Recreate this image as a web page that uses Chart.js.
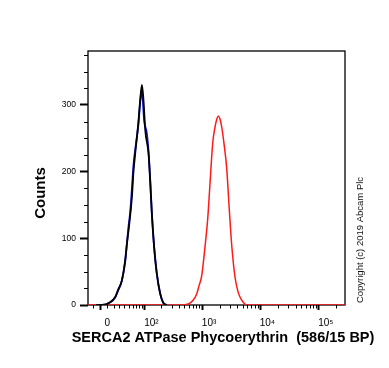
<!DOCTYPE html>
<html><head><meta charset="utf-8">
<script src="https://cdn.jsdelivr.net/npm/chart.js@4"></script>
<style>html,body{margin:0;padding:0;background:#fff;}#wrap{width:389px;height:368px;position:relative;}</style>
</head><body><div id="wrap"><canvas id="c" width="389" height="368"></canvas></div>
<script>
// Fluorescence intensity (PE) values and counts
const blackX = [-5.7, 2.8, 14.6, 22.6, 27.8, 34.7, 41.6, 45.5, 49.3, 53.5, 57.9, 62.2, 67.0, 77.4, 83.4, 90.1, 96.2, 103.8, 118.4, 126.8, 135.7, 149.1, 166.1, 190, 216.6, 247.8];
const blackY = [0, 0, 4, 12, 23, 37, 67, 92, 112, 135, 162, 200, 226, 274, 306, 330, 307, 262, 228, 187, 138, 87, 47, 17, 3, 0];
const blueX = [-5.7, 2.8, 14.6, 22.6, 27.8, 34.7, 41.6, 45.5, 49.3, 53.5, 57.9, 62.2, 67.0, 77.4, 83.4, 87.8, 92.8, 98.8, 110.6, 118.4, 126.8, 135.7, 149.1, 166.1, 190, 216.6, 247.8];
const blueY = [0, 0, 4, 11, 22, 36, 65, 92, 118, 140, 175, 210, 232, 271, 303, 320, 310, 277, 258, 232, 190, 140, 88, 48, 18, 3, 0];
const redX = [-18, 420, 583, 702, 812, 889, 988, 1126, 1252, 1371, 1524, 1668, 1791, 1900, 2031, 2172, 2378, 2645, 2895, 3219, 3666, 4126, 4464, 5023, 5810, 7159, 280000];
const redY = [0, 0, 1.5, 7, 17, 29, 44, 88, 130, 183, 243, 267, 279, 283.5, 279, 267, 242, 205, 150, 90, 42, 20, 12, 4.5, 0, 0, 0];

const xMajorVals = [0, 100, 1000, 10000, 100000];
const xTickLabels = ['0', '10\u00B2', '10\u00B3', '10\u2074', '10\u2075'];
const xMinorVals = [-10, 10, 20, 30, 40, 50, 60, 70, 80, 90, 200, 300, 400, 500, 600, 700, 800, 900,
  2000, 3000, 4000, 5000, 6000, 7000, 8000, 9000, 20000, 30000, 40000, 50000, 60000, 70000, 80000, 90000, 200000];
const yMajorVals = [0, 100, 200, 300];
const yMinorVals = [25, 50, 75, 125, 150, 175, 225, 250, 275, 325, 350, 375];
const xRange = [-18, 280000];
const yRange = [0, 381];

const xTitle = 'SERCA2 ATPase Phycoerythrin  (586/15 BP)';
const yTitle = 'Counts';
const copyright = 'Copyright (c) 2019 Abcam Plc';

const W = 36.1;
const T = v => Math.asinh(v / W) / Math.LN10; // biexponential-like display transform
const FONT = "'Liberation Sans', Arial, sans-serif";

const pts = (xs, ys) => xs.map((x, i) => ({x: T(x), y: ys[i]}));

const extras = {
  id: 'extras',
  beforeDatasetsDraw(chart) {
    const {ctx, chartArea: a} = chart;
    ctx.save();
    ctx.strokeStyle = '#000';
    ctx.lineWidth = 1.3;
    ctx.strokeRect(a.left, a.top, a.right - a.left, a.bottom - a.top);
    ctx.restore();
  },
  afterDraw(chart) {
    const {ctx, chartArea: a, scales} = chart;
    ctx.save();
    ctx.strokeStyle = '#000';
    ctx.lineWidth = 1;
    ctx.beginPath();
    xMinorVals.forEach(v => {
      const px = Math.round(scales.x.getPixelForValue(T(v))) + 0.5;
      ctx.moveTo(px, a.bottom); ctx.lineTo(px, a.bottom + 3.5);
    });
    yMinorVals.forEach(v => {
      const py = Math.round(scales.y.getPixelForValue(v)) + 0.5;
      ctx.moveTo(a.left, py); ctx.lineTo(a.left - 4, py);
    });
    ctx.stroke();
    ctx.fillStyle = '#000';
    ctx.textAlign = 'center';
    ctx.textBaseline = 'middle';
    ctx.font = 'bold 14.5px ' + FONT;
    ctx.fillText(xTitle, 223, 338);
    ctx.save();
    ctx.translate(41, 193);
    ctx.rotate(-Math.PI / 2);
    ctx.font = 'bold 15px ' + FONT;
    ctx.fillText(yTitle, 0, 0);
    ctx.restore();
    ctx.translate(360, 240);
    ctx.rotate(-Math.PI / 2);
    ctx.font = '9.5px ' + FONT;
    ctx.fillStyle = '#111';
    ctx.fillText(copyright, 0, 0);
    ctx.restore();
  }
};

new Chart(document.getElementById('c'), {
  type: 'line',
  data: {
    datasets: [
      {label: 'Unstained', data: pts(blackX, blackY), borderColor: '#000000', borderWidth: 1.8, pointRadius: 0, cubicInterpolationMode: 'monotone', fill: false},
      {label: 'SERCA2 ATPase', data: pts(redX, redY), borderColor: '#ff1a1a', borderWidth: 1.5, pointRadius: 0, cubicInterpolationMode: 'monotone', fill: false},
      {label: 'Isotype control', data: pts(blueX, blueY), borderColor: '#1414e0', borderWidth: 1.8, pointRadius: 0, cubicInterpolationMode: 'monotone', fill: false}
    ]
  },
  options: {
    responsive: false,
    animation: false,
    devicePixelRatio: 1,
    layout: {padding: {left: 0, right: 44, top: 51, bottom: 0}},
    plugins: {legend: {display: false}, tooltip: {enabled: false}, title: {display: false}},
    scales: {
      x: {
        type: 'linear', min: T(xRange[0]), max: T(xRange[1]),
        afterFit(s) { s.height = 63; },
        afterBuildTicks(s) { s.ticks = xMajorVals.map(v => ({value: T(v)})); },
        ticks: {callback: (v, i) => xTickLabels[i], labelOffset: 7, padding: 7, autoSkip: false, maxRotation: 0,
          color: '#000', font: {family: FONT, size: 10}},
        grid: {drawOnChartArea: false, tickLength: 5, tickWidth: 2, tickColor: '#000'},
        border: {display: false}
      },
      y: {
        type: 'linear', min: yRange[0], max: yRange[1],
        afterFit(s) { s.width = 88; },
        afterBuildTicks(s) { s.ticks = yMajorVals.map(v => ({value: v})); },
        ticks: {callback: v => String(v), padding: 4, color: '#000', font: {family: FONT, size: 8.5}},
        grid: {drawOnChartArea: false, tickLength: 8, tickWidth: 2, tickColor: '#000'},
        border: {display: false}
      }
    }
  },
  plugins: [extras]
});
</script></body></html>
